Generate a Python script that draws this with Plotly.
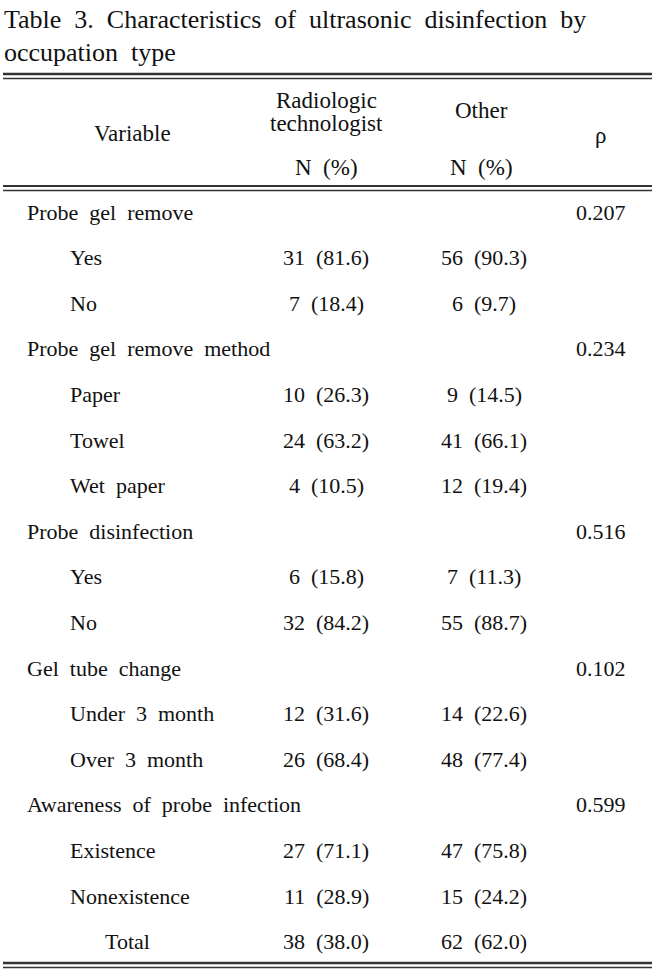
import plotly.graph_objects as go

# ---------------- data ----------------
title_lines = ["Table 3. Characteristics of ultrasonic disinfection by", "occupation type"]
header_variable = "Variable"
header_col1 = ["Radiologic", "technologist"]
header_col2 = "Other"
header_p = "ρ"
header_unit = "N (%)"

groups = ["Probe gel remove", "Probe gel remove method", "Probe disinfection",
          "Gel tube change", "Awareness of probe infection"]
p_values = ["0.207", "0.234", "0.516", "0.102", "0.599"]
levels = [["Yes", "No"], ["Paper", "Towel", "Wet paper"], ["Yes", "No"],
          ["Under 3 month", "Over 3 month"], ["Existence", "Nonexistence"]]
radiologic_n = [[31, 7], [10, 24, 4], [6, 32], [12, 26], [27, 11]]
radiologic_pct = [[81.6, 18.4], [26.3, 63.2, 10.5], [15.8, 84.2], [31.6, 68.4], [71.1, 28.9]]
other_n = [[56, 6], [9, 41, 12], [7, 55], [14, 48], [47, 15]]
other_pct = [[90.3, 9.7], [14.5, 66.1, 19.4], [11.3, 88.7], [22.6, 77.4], [75.8, 24.2]]
total_label = "Total"
total_n = [38, 62]
total_pct = [38.0, 62.0]

# ---------------- layout helpers ----------------
W, H = 660, 971
FONT = "Liberation Serif"
FS = 22
COL = "#111111"


def sp(s, n=2):
    return s.replace(" ", "\u00a0" * n)


def cell(n, p):
    return sp(f"{n} ({p:.1f})")


annotations = []


def add(text, x, y, anchor="left", size=FS):
    annotations.append(dict(x=x, y=y, xref="x", yref="y", text=text, showarrow=False,
                            xanchor=anchor, yanchor="middle",
                            font=dict(family=FONT, size=size, color=COL)))


# title
add(sp(title_lines[0], 2), 2, 19, "left", 26)
add(sp(title_lines[1], 2), 2, 52, "left", 26)

# header
X_VAR, X_C1, X_C2, X_P = 132, 326, 484, 600
HS = 23
add(header_variable, X_VAR, 133, "center", HS)
add(header_col1[0], X_C1, 100, "center", HS)
add(header_col1[1], X_C1, 123, "center", HS)
add(header_col2, X_C2 - 3, 110, "center", HS)
add(header_p, X_P, 135, "center", HS)
add(sp(header_unit), X_C1, 167, "center", HS)
add(sp(header_unit), X_C2 - 3, 167, "center", HS)

# body
Y0, DY = 212, 45.6
row = 0
for g, p, levs, rn, rp, on, op in zip(groups, p_values, levels,
                                       radiologic_n, radiologic_pct, other_n, other_pct):
    y = Y0 + DY * row
    add(sp(g), 25, y, "left")
    add(p, 628, y, "right")
    row += 1
    for lv, a, b, c, d in zip(levs, rn, rp, on, op):
        y = Y0 + DY * row
        add(sp(lv), 68, y, "left")
        add(cell(a, b), X_C1, y, "center")
        add(cell(c, d), X_C2, y, "center")
        row += 1

y = Y0 + DY * row
add(total_label, 127, y, "center")
add(cell(total_n[0], total_pct[0]), X_C1, y, "center")
add(cell(total_n[1], total_pct[1]), X_C2, y, "center")

# rules
shapes = []


def hline(y, w):
    shapes.append(dict(type="line", xref="x", yref="y", x0=3, x1=652, y0=y, y1=y,
                       line=dict(color="#333333", width=w)))


hline(74, 2.5)
hline(78.5, 1.5)
hline(186, 2)
hline(190.5, 1.5)
hline(963, 2.5)
hline(967.5, 1.5)

fig = go.Figure()
fig.add_trace(go.Scatter(x=[0, W], y=[0, H], mode="markers",
                         marker=dict(opacity=0), hoverinfo="skip", showlegend=False))
fig.update_layout(
    width=W, height=H, margin=dict(l=0, r=0, t=0, b=0),
    paper_bgcolor="white", plot_bgcolor="white",
    xaxis=dict(range=[0, W], visible=False, fixedrange=True),
    yaxis=dict(range=[H, 0], visible=False, fixedrange=True),
    annotations=annotations, shapes=shapes, showlegend=False,
)
fig.write_html("out.html", config={"displayModeBar": False},
               post_script="document.body.style.margin='0';document.body.style.overflow='hidden';")
